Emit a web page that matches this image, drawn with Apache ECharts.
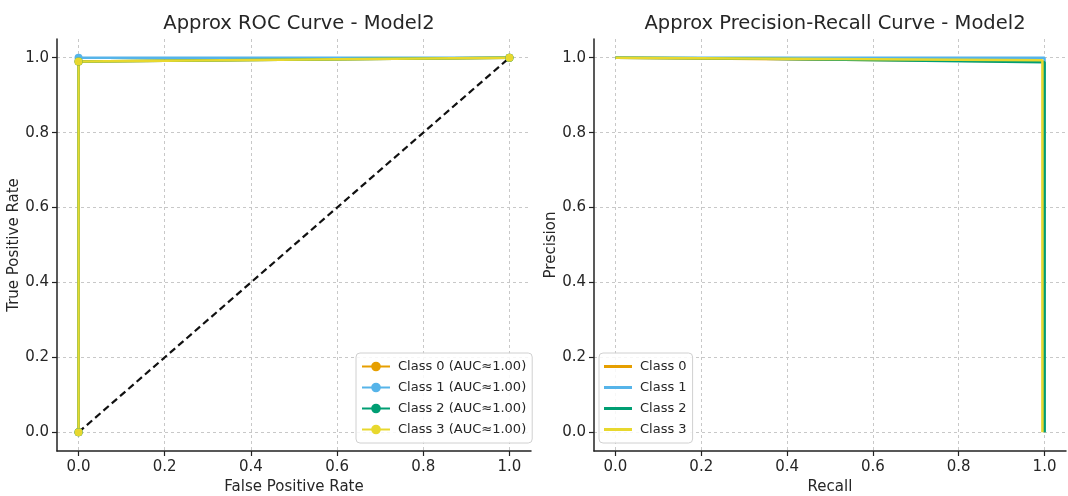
<!DOCTYPE html>
<html>
<head>
<meta charset="utf-8">
<script src="https://cdn.jsdelivr.net/npm/echarts@6/dist/echarts.min.js"></script>
<style>
  html, body { margin: 0; padding: 0; background: #fff; }
  #chart { width: 1068px; height: 496px; }
</style>
</head>
<body>
<div id="chart"></div>
<script>
const classNames = ['Class 0', 'Class 1', 'Class 2', 'Class 3']
const classColors = ['#E69F00', '#56B4E9', '#009E73', '#E8D82E']
const aucLabels = ['1.00', '1.00', '1.00', '1.00']
const tickValues = [0, 0.2, 0.4, 0.6, 0.8, 1.0]

// ROC points [fpr, tpr]
const rocPoints = [
  [[0, 0], [0, 0.99], [1, 1]],
  [[0, 0], [0, 1.0], [1, 1]],
  [[0, 0], [0, 0.99], [1, 1]],
  [[0, 0], [0, 0.99], [1, 1]],
]
const diagonal = [[0, 0], [1, 1]]

// PR points [recall, precision]
const prPoints = [
  [[0, 1], [1, 0.99], [1, 0]],
  [[0, 1], [1, 1.0], [1, 0]],
  [[0, 1], [0.3, 0.998], [1, 0.988], [1, 0]],
  [[0, 1], [0.995, 0.993], [0.995, 0]],
]

const font = 'DejaVu Sans'
const textColor = '#262626'

function makeAxis(gridIndex, name, isY) {
  return {
    type: 'value',
    gridIndex,
    min: -0.05,
    max: 1.05,
    name,
    nameLocation: 'middle',
    nameGap: isY ? 30 : 28,
    nameTextStyle: { fontFamily: font, fontSize: 15, color: textColor },
    axisLine: { show: true, onZero: false, lineStyle: { color: '#222', width: 1.5 } },
    axisTick: { show: true, customValues: tickValues, length: 5, lineStyle: { color: '#222', width: 1.2 } },
    axisLabel: {
      customValues: tickValues,
      formatter: (v) => v.toFixed(1),
      fontFamily: font,
      fontSize: 15,
      color: textColor,
      margin: isY ? 8 : 9,
    },
    splitLine: { show: true, lineStyle: { type: [3, 3], color: '#c8c8c8', width: 1 } },
  }
}

const series = []
classNames.forEach((name, i) => {
  series.push({
    name: `${name} (AUC≈${aucLabels[i]})`,
    type: 'line',
    xAxisIndex: 0,
    yAxisIndex: 0,
    data: rocPoints[i],
    color: classColors[i],
    symbol: 'circle',
    symbolSize: 8,
    lineStyle: { width: 2.5 },
    animation: false,
  })
})
series.push({
  name: 'diagonal',
  type: 'line',
  xAxisIndex: 0,
  yAxisIndex: 0,
  data: diagonal,
  color: '#111',
  symbol: 'none',
  lineStyle: { width: 2.2, type: [7, 4] },
  z: 1,
  animation: false,
})
classNames.forEach((name, i) => {
  series.push({
    name,
    type: 'line',
    xAxisIndex: 1,
    yAxisIndex: 1,
    data: prPoints[i],
    color: classColors[i],
    symbol: 'none',
    lineStyle: { width: 2.5 },
    animation: false,
  })
})

const legendBase = {
  orient: 'vertical',
  backgroundColor: 'rgba(255,255,255,0.85)',
  borderColor: '#d0d0d0',
  borderWidth: 1,
  borderRadius: 4,
  padding: [7, 6, 7, 5],
  itemGap: 8,
  itemWidth: 28,
  itemHeight: 12,
  selectedMode: false,
  textStyle: { fontFamily: font, fontSize: 13, color: textColor, padding: [0, 0, 0, 3] },
}

const chart = echarts.init(document.getElementById('chart'))
chart.setOption({
  animation: false,
  title: [
    { text: 'Approx ROC Curve - Model2', left: 294, textAlign: 'center', top: 9,
      textStyle: { fontFamily: font, fontSize: 19.5, fontWeight: 'normal', color: textColor } },
    { text: 'Approx Precision-Recall Curve - Model2', left: 830, textAlign: 'center', top: 9,
      textStyle: { fontFamily: font, fontSize: 19.5, fontWeight: 'normal', color: textColor } },
  ],
  legend: [
    Object.assign({}, legendBase, {
      data: classNames.map((n, i) => `${n} (AUC≈${aucLabels[i]})`),
      left: 356,
      top: 353,
    }),
    Object.assign({}, legendBase, {
      data: classNames,
      icon: 'rect',
      itemHeight: 3,
      left: 599,
      top: 353,
    }),
  ],
  grid: [
    { left: 57, right: 537, top: 39, bottom: 45, outerBoundsMode: 'none' },
    { left: 594, right: 2, top: 39, bottom: 45, outerBoundsMode: 'none' },
  ],
  xAxis: [
    makeAxis(0, 'False Positive Rate', false),
    makeAxis(1, 'Recall', false),
  ],
  yAxis: [
    makeAxis(0, 'True Positive Rate', true),
    makeAxis(1, 'Precision', true),
  ],
  series,
})
</script>
</body>
</html>
